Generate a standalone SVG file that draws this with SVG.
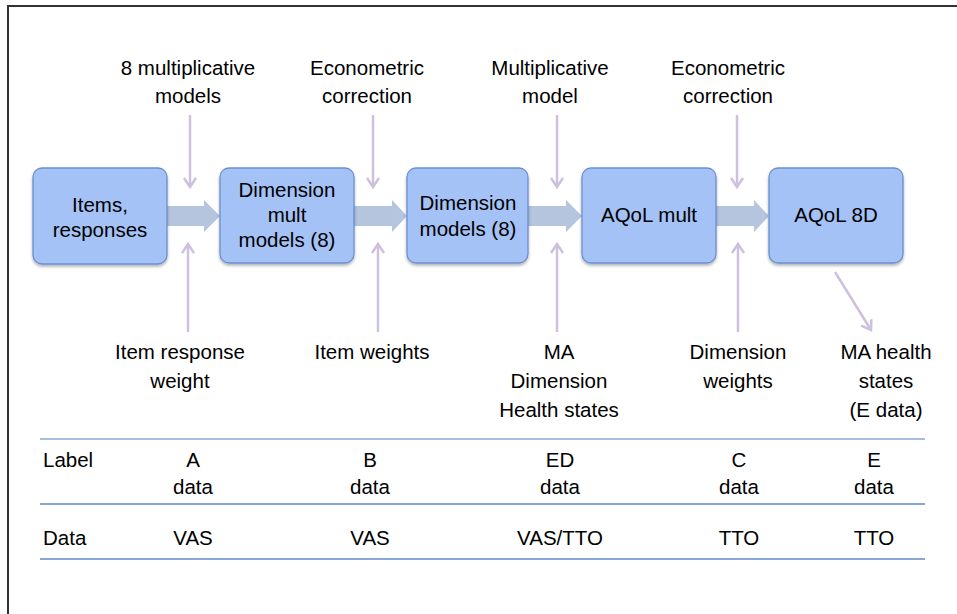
<svg xmlns="http://www.w3.org/2000/svg" width="957" height="614" viewBox="0 0 957 614">
<defs>
<style>
text{font-family:"Liberation Sans",Arial,sans-serif;font-size:20.5px;fill:#000;text-anchor:middle}
.box{fill:#a4c2f6;stroke:#6a90d2;stroke-width:1.3}
.fat{fill:#b5c5dd}
.thin{stroke:#cdc1df;stroke-width:2.5;fill:none}
.tl{text-anchor:start}
</style>
<filter id="sh" x="-10%" y="-10%" width="120%" height="130%">
<feDropShadow dx="0" dy="2" stdDeviation="1.5" flood-color="#000" flood-opacity="0.3"/>
</filter>
<marker id="ah" markerUnits="userSpaceOnUse" markerWidth="20" markerHeight="20" viewBox="-10 -10 20 20" refX="0" refY="0" orient="auto">
<path d="M-9,-6 L0,0 L-9,6" fill="none" stroke="#cdc1df" stroke-width="2.5"/>
</marker>
</defs>
<rect x="8" y="6" width="960" height="620" fill="#fff" stroke="#333" stroke-width="2"/>

<g id="connectors">
<polygon class="fat" points="167,206 204,206 204,200 220,216 204,232 204,226 167,226"/>
<polygon class="fat" points="354,206 392,206 392,200 407,216 392,232 392,226 354,226"/>
<polygon class="fat" points="528,206 566,206 566,200 582,216 566,232 566,226 528,226"/>
<polygon class="fat" points="716,206 754,206 754,200 769,216 754,232 754,226 716,226"/>
<line class="thin" x1="190" y1="115" x2="190" y2="187" marker-end="url(#ah)"/>
<line class="thin" x1="373" y1="115" x2="373" y2="187" marker-end="url(#ah)"/>
<line class="thin" x1="557" y1="115" x2="557" y2="187" marker-end="url(#ah)"/>
<line class="thin" x1="737" y1="115" x2="737" y2="187" marker-end="url(#ah)"/>
<line class="thin" x1="188" y1="332" x2="188" y2="244" marker-end="url(#ah)"/>
<line class="thin" x1="378" y1="332" x2="378" y2="244" marker-end="url(#ah)"/>
<line class="thin" x1="557" y1="332" x2="557" y2="244" marker-end="url(#ah)"/>
<line class="thin" x1="738" y1="332" x2="738" y2="244" marker-end="url(#ah)"/>
<line class="thin" x1="835" y1="272" x2="871" y2="330" marker-end="url(#ah)"/>
</g>

<g id="n1">
<rect class="box" filter="url(#sh)" x="33" y="168" width="134" height="96" rx="9"/>
<text x="100" y="212">Items,</text>
<text x="100" y="237">responses</text>
</g>
<g id="n2">
<rect class="box" filter="url(#sh)" x="220" y="168" width="134" height="95" rx="9"/>
<text x="287" y="197">Dimension</text>
<text x="287" y="222">mult</text>
<text x="287" y="247">models (8)</text>
</g>
<g id="n3">
<rect class="box" filter="url(#sh)" x="407" y="168" width="121" height="95" rx="9"/>
<text x="468" y="210">Dimension</text>
<text x="468" y="236">models (8)</text>
</g>
<g id="n4">
<rect class="box" filter="url(#sh)" x="582" y="168" width="134" height="95" rx="9"/>
<text x="649" y="222">AQoL mult</text>
</g>
<g id="n5">
<rect class="box" filter="url(#sh)" x="769" y="168" width="134" height="95" rx="9"/>
<text x="836" y="222">AQoL 8D</text>
</g>

<g id="labels">
<text x="188" y="75">8 multiplicative</text>
<text x="188" y="103">models</text>
<text x="367" y="75">Econometric</text>
<text x="367" y="103">correction</text>
<text x="550" y="75">Multiplicative</text>
<text x="550" y="103">model</text>
<text x="728" y="75">Econometric</text>
<text x="728" y="103">correction</text>
<text x="180" y="359">Item response</text>
<text x="180" y="388">weight</text>
<text x="372" y="359">Item weights</text>
<text x="559" y="359">MA</text>
<text x="559" y="388">Dimension</text>
<text x="559" y="417">Health states</text>
<text x="738" y="359">Dimension</text>
<text x="738" y="388">weights</text>
<text x="886" y="359">MA health</text>
<text x="886" y="388">states</text>
<text x="886" y="417">(E data)</text>
</g>

<g id="table">
<line x1="40" y1="439" x2="925" y2="439" stroke="#a8bedd" stroke-width="2"/>
<line x1="40" y1="504" x2="925" y2="504" stroke="#5f8ac6" stroke-width="1.5"/>
<line x1="40" y1="559" x2="925" y2="559" stroke="#5f8ac6" stroke-width="1.5"/>
<text class="tl" x="43" y="467">Label</text>
<text x="193" y="467">A</text>
<text x="193" y="494">data</text>
<text x="370" y="467">B</text>
<text x="370" y="494">data</text>
<text x="560" y="467">ED</text>
<text x="560" y="494">data</text>
<text x="739" y="467">C</text>
<text x="739" y="494">data</text>
<text x="874" y="467">E</text>
<text x="874" y="494">data</text>
<text class="tl" x="43" y="545">Data</text>
<text x="193" y="545">VAS</text>
<text x="370" y="545">VAS</text>
<text x="560" y="545">VAS/TTO</text>
<text x="739" y="545">TTO</text>
<text x="874" y="545">TTO</text>
</g>
</svg>
